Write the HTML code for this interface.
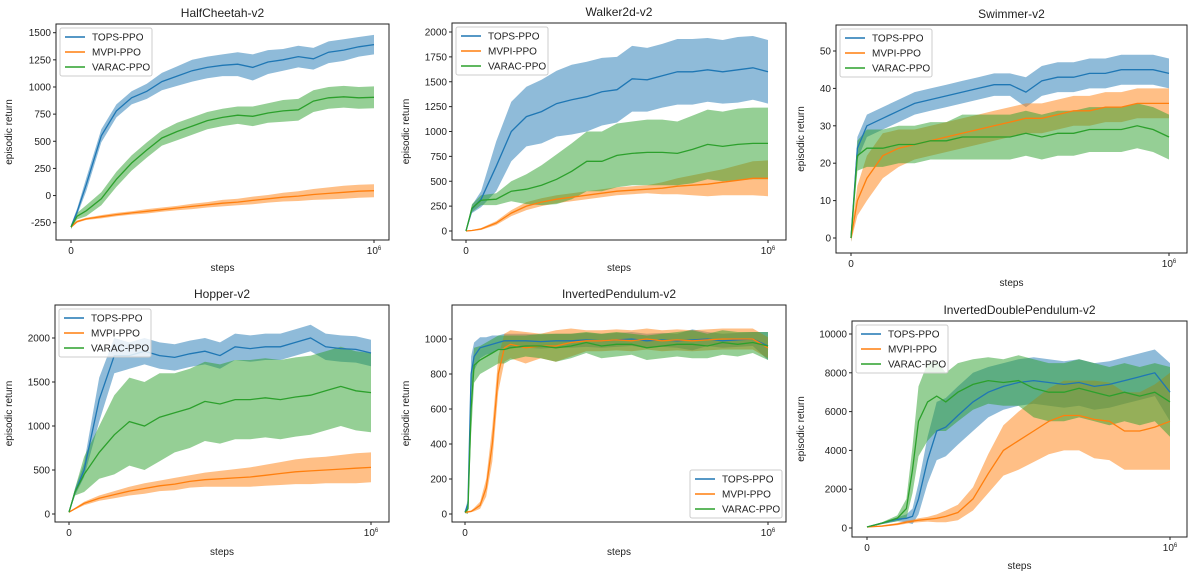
<!DOCTYPE html>
<html><head><meta charset="utf-8"><style>
body{margin:0;background:#fff;width:1194px;height:579px;overflow:hidden}
svg text{font-family:"Liberation Sans",sans-serif;fill:#222}
</style></head><body>
<svg id="fig" width="1194" height="579" xmlns="http://www.w3.org/2000/svg"></svg>
<script>
const seriesNames = ["TOPS-PPO","MVPI-PPO","VARAC-PPO"];
const colors = ["#1f77b4","#ff7f0e","#2ca02c"];
const stdSteps = [0,0.02,0.05,0.1,0.15,0.2,0.25,0.3,0.35,0.4,0.45,0.5,0.55,0.6,0.65,0.7,0.75,0.8,0.85,0.9,0.95,1.0];
const p5Steps = [0,0.01,0.02,0.03,0.05,0.07,0.09,0.11,0.13,0.15,0.2,0.25,0.3,0.35,0.4,0.45,0.5,0.55,0.6,0.65,0.7,0.75,0.8,0.85,0.9,0.95,1.0];
const p6Steps = [0,0.05,0.1,0.13,0.15,0.17,0.2,0.23,0.26,0.3,0.35,0.4,0.45,0.5,0.55,0.6,0.65,0.7,0.75,0.8,0.85,0.9,0.95,1.0];

const hcTops = [-290,-150,100,550,780,900,960,1050,1100,1150,1180,1200,1210,1180,1230,1250,1280,1260,1320,1340,1370,1390];
const hcTopsBand = [20,30,60,60,60,60,70,80,90,100,100,100,110,120,110,100,100,100,100,100,90,90];
const hcMvpi = [-290,-240,-215,-195,-175,-160,-145,-130,-115,-100,-85,-70,-60,-45,-30,-15,-5,10,20,30,40,45];
const hcMvpiBand = [10,10,10,15,15,15,20,20,20,25,25,30,30,35,35,40,45,50,55,60,60,60];
const hcVarac = [-290,-190,-140,-30,150,300,420,530,590,640,690,720,740,730,760,780,790,870,900,910,900,905];
const hcVaracBand = [15,30,50,60,70,70,70,70,80,80,80,80,80,90,90,100,100,100,100,100,100,100];

const wkTops = [0,220,320,650,1000,1150,1200,1280,1320,1350,1400,1420,1530,1520,1560,1600,1600,1620,1600,1620,1640,1600];
const wkTopsBand = [10,40,80,250,300,300,320,330,350,350,340,330,330,320,320,330,330,320,320,330,320,320];
const wkMvpi = [0,5,20,80,180,250,290,320,340,360,380,400,410,420,430,450,460,470,490,510,530,530];
const wkMvpiBand = [5,5,10,20,30,40,40,40,40,40,40,40,40,40,60,80,100,120,130,150,170,180];
const wkVarac = [0,230,310,320,400,420,460,520,600,700,700,760,780,790,790,780,820,870,850,870,880,880];
const wkVaracBand = [10,40,50,60,100,150,200,250,280,300,300,320,320,330,330,320,340,350,350,360,360,360];

const swTops = [0,24,30,32,34,36,37,38,39,40,41,41,39,42,43,43,44,44,45,45,45,44];
const swTopsBand = [1,3,3,3,3,3,3,3,3,3,3,3,4,4,4,4,4,4,4,4,4,4];
const swMvpi = [0,10,16,22,24,25,26,27,28,29,30,31,32,32,33,34,34,35,35,36,36,36];
const swMvpiBand = [1,4,6,6,5,4,4,4,4,4,4,4,4,4,4,4,4,4,4,4,4,4];
const swVarac = [0,22,24,24,25,25,26,26,27,27,27,27,28,27,28,28,29,29,29,30,29,27];
const swVaracBand = [1,4,5,5,5,5,5,5,6,6,6,6,6,6,6,6,6,6,6,6,6,6];

const hpTops = [20,250,500,1300,1800,1800,1850,1800,1780,1820,1850,1800,1900,1880,1900,1900,1950,2000,1900,1880,1870,1830];
const hpTopsBand = [10,40,80,250,200,150,150,150,150,150,150,150,150,150,150,150,150,150,150,150,150,150];
const hpMvpi = [20,60,120,180,220,260,290,320,340,370,390,400,410,420,440,460,480,490,500,510,520,530];
const hpMvpiBand = [5,10,20,30,40,50,60,60,70,70,80,90,100,110,120,130,140,150,150,160,170,170];
const hpVarac = [20,250,450,700,900,1050,1000,1100,1150,1200,1280,1250,1300,1300,1320,1300,1330,1350,1400,1450,1400,1380];
const hpVaracBand = [10,40,200,300,450,500,500,500,450,450,450,450,450,450,450,450,450,450,450,450,450,450];

const ipTops = [10,60,800,900,950,960,970,980,990,990,990,985,990,990,995,990,995,1000,990,995,990,995,1000,990,995,1000,960];
const ipTopsBand = [5,30,100,80,60,50,50,40,40,40,40,40,40,40,40,40,40,40,40,40,40,60,40,40,40,40,80];
const ipMvpi = [10,12,15,25,50,150,400,800,950,970,950,960,960,980,990,990,995,990,1000,990,995,990,995,1000,1000,1000,950];
const ipMvpiBand = [5,5,5,10,20,50,100,100,80,80,90,70,90,80,60,60,60,60,60,60,60,60,60,60,60,60,60];
const ipVarac = [10,30,600,850,880,900,920,940,940,950,960,960,950,960,980,960,970,970,950,960,970,970,960,980,970,980,960];
const ipVaracBand = [5,30,150,100,80,80,80,80,80,70,60,70,80,70,60,70,70,60,70,70,70,80,70,70,70,60,80];

const idTops = [50,250,450,500,600,1500,3500,5000,5200,5800,6500,7000,7300,7500,7600,7500,7400,7500,7300,7400,7600,7800,8000,7000];
const idTopsBand = [20,50,100,200,400,800,1200,1500,1500,1500,1500,1300,1200,1200,1200,1200,1200,1200,1200,1200,1200,1200,1200,1500];
const idMvpi = [50,100,200,300,350,400,450,500,600,800,1500,2800,4000,4500,5000,5500,5800,5800,5600,5500,5000,5000,5200,5500];
const idMvpiBand = [20,40,60,80,80,100,120,200,300,400,600,1000,1300,1500,1600,1700,1800,1800,2000,2000,2000,2000,2200,2500];
const idVarac = [50,250,500,1000,3000,5500,6500,6800,6500,7000,7400,7600,7500,7600,7200,7000,7000,7200,7000,6800,7000,6800,7000,6500];
const idVaracBand = [20,50,150,500,1200,1800,2000,1800,1500,1500,1300,1200,1200,1300,1500,1500,1500,1500,1500,1500,1500,1500,1500,1800];

const hcTicks = [-250,0,250,500,750,1000,1250,1500];
const wkTicks = [0,250,500,750,1000,1250,1500,1750,2000];
const swTicks = [0,10,20,30,40,50];
const hpTicks = [0,500,1000,1500,2000];
const ipTicks = [0,200,400,600,800,1000];
const idTicks = [0,2000,4000,6000,8000,10000];

const panels = [
 {key:"halfcheetah",title:"HalfCheetah-v2",box:[56,389,24,240],x0:71,x1:374,ya:[-250,222.7],yb:[1500,32.7],ticks:hcTicks,steps:stdSteps,m:[hcTops,hcMvpi,hcVarac],b:[hcTopsBand,hcMvpiBand,hcVaracBand],ylab:12,stepsY:271,leg:"tl"},
 {key:"walker",title:"Walker2d-v2",box:[452,786,23,240],x0:466,x1:768,ya:[0,231],yb:[2000,32],ticks:wkTicks,steps:stdSteps,m:[wkTops,wkMvpi,wkVarac],b:[wkTopsBand,wkMvpiBand,wkVaracBand],ylab:409,stepsY:271,leg:"tl"},
 {key:"swimmer",title:"Swimmer-v2",box:[836,1187,25,253],x0:851,x1:1169,ya:[0,238],yb:[50,51],ticks:swTicks,steps:stdSteps,m:[swTops,swMvpi,swVarac],b:[swTopsBand,swMvpiBand,swVaracBand],ylab:804,stepsY:286,leg:"tl"},
 {key:"hopper",title:"Hopper-v2",box:[55,389,305,522],x0:69,x1:371,ya:[0,514],yb:[2000,338],ticks:hpTicks,steps:stdSteps,m:[hpTops,hpMvpi,hpVarac],b:[hpTopsBand,hpMvpiBand,hpVaracBand],ylab:12,stepsY:555,leg:"tl"},
 {key:"invpend",title:"InvertedPendulum-v2",box:[452,786,305,522],x0:465,x1:768,ya:[0,514],yb:[1000,339],ticks:ipTicks,steps:p5Steps,m:[ipTops,ipMvpi,ipVarac],b:[ipTopsBand,ipMvpiBand,ipVaracBand],ylab:409,stepsY:555,leg:"br"},
 {key:"invdoublepend",title:"InvertedDoublePendulum-v2",box:[852,1187,321,537],x0:867,x1:1170,ya:[0,528],yb:[10000,334],ticks:idTicks,steps:p6Steps,m:[idTops,idMvpi,idVarac],b:[idTopsBand,idMvpiBand,idVaracBand],ylab:804,stepsY:569,leg:"tl"}
];
const NS="http://www.w3.org/2000/svg";
const fig=document.getElementById('fig');
function mk(tag,attrs,parent){const e=document.createElementNS(NS,tag);for(const k in attrs)e.setAttribute(k,attrs[k]);(parent||fig).appendChild(e);return e;}
panels.forEach((p,pi)=>{
 const [l,r,t,b]=p.box;
 const g=mk('g',{});
 
 
 const xs=v=>p.x0+(p.x1-p.x0)*v;
 const ys=v=>p.ya[1]+(v-p.ya[0])*(p.yb[1]-p.ya[1])/(p.yb[0]-p.ya[0]);
 const cp=mk('clipPath',{id:'c'+pi},g);mk('rect',{x:l,y:t,width:r-l,height:b-t},cp);
 const plot=mk('g',{'clip-path':'url(#c'+pi+')'},g);
 p.m.forEach((ser,si)=>{
  const band=p.b[si];
  let up=ser.map((v,i)=>xs(p.steps[i]).toFixed(1)+','+ys(v+band[i]).toFixed(1));
  let dn=ser.map((v,i)=>xs(p.steps[i]).toFixed(1)+','+ys(v-band[i]).toFixed(1)).reverse();
  const poly=mk('polygon',{points:up.concat(dn).join(' '),fill:colors[si],'fill-opacity':0.5,stroke:'none'},plot);
  
  
 });
 p.m.forEach((ser,si)=>{
  const pts=ser.map((v,i)=>xs(p.steps[i]).toFixed(1)+','+ys(v).toFixed(1)).join(' ');
  const ln=mk('polyline',{points:pts,fill:'none',stroke:colors[si],'stroke-width':1.3},plot);
  
  
 });
 mk('rect',{x:l,y:t,width:r-l,height:b-t,fill:'none',stroke:'#222','stroke-width':1},g);
 const tt=mk('text',{x:(l+r)/2,y:t-7,'text-anchor':'middle','font-size':12},g);tt.textContent=p.title;
 
 
 p.ticks.forEach(v=>{
  const y=ys(v);
  mk('line',{x1:l-3,x2:l,y1:y,y2:y,stroke:'#222'},g);
  const tx=mk('text',{x:l-5,y:y+3.5,'text-anchor':'end','font-size':10},g);tx.textContent=v;
  
  
 });
 [[0,'0'],[1,'10']].forEach(([v,s])=>{
  const x=xs(v);mk('line',{x1:x,x2:x,y1:b,y2:b+3,stroke:'#222'},g);
  const tx=mk('text',{x:x,y:b+14,'text-anchor':'middle','font-size':10},g);tx.textContent=s;
  
  
  if(v===1){const sup=mk('tspan',{'font-size':6,dy:-4},tx);sup.textContent='6';}
 });
 const xl=mk('text',{x:(l+r)/2,y:p.stepsY,'text-anchor':'middle','font-size':10},g);xl.textContent='steps';
 
 
 const cy=(t+b)/2;
 const yl=mk('text',{x:p.ylab,y:cy,'text-anchor':'middle','font-size':10,transform:'rotate(-90 '+p.ylab+' '+cy+')'},g);yl.textContent='episodic return';
 
 
 let lx,ly; const lw=92,lh=48;
 if(p.leg==='tl'){lx=l+4;ly=t+4;}else{lx=r-lw-4;ly=b-lh-4;}
 const lg=mk('g',{},g);
 
 
 mk('rect',{x:lx,y:ly,width:lw,height:lh,fill:'#fff','fill-opacity':0.8,stroke:'#ccc',rx:2},lg);
 seriesNames.forEach((n,si)=>{
  const yy=ly+9+si*15;
  mk('line',{x1:lx+5,x2:lx+25,y1:yy,y2:yy,stroke:colors[si],'stroke-width':1.5},lg);
  const et=mk('text',{x:lx+32,y:yy+3.5,'font-size':10},lg);et.textContent=n;
  
  
 });
});
</script>
</body></html>
